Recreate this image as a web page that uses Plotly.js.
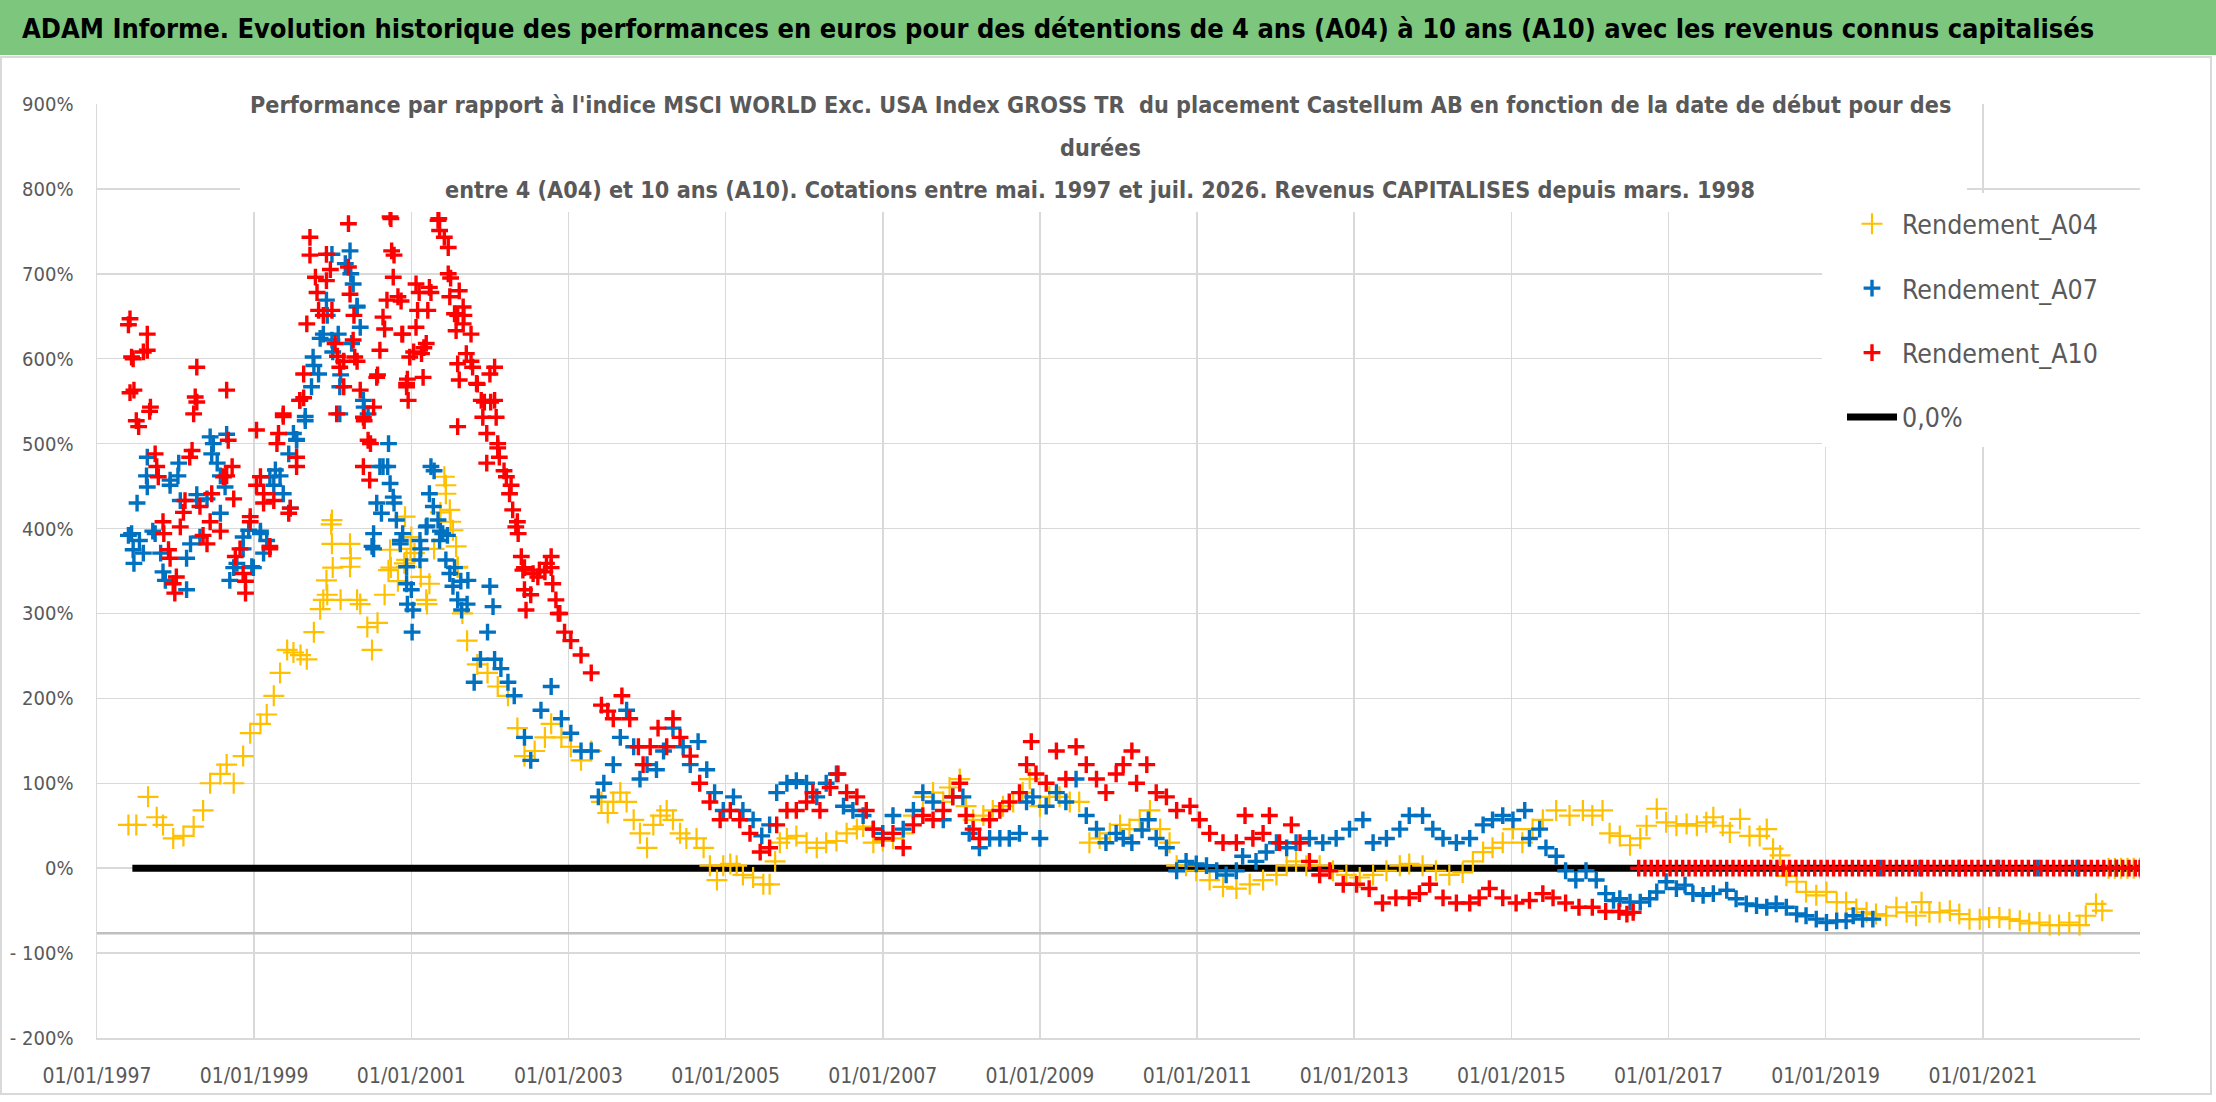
<!DOCTYPE html>
<html>
<head>
<meta charset="utf-8">
<script src="https://cdn.plot.ly/plotly-3.0.1.min.js"></script>
<style>
  html, body { margin: 0; padding: 0; background: #ffffff; }
  #chart { width: 2216px; height: 1102px; }
</style>
</head>
<body>
<div id="chart"></div>
<script>
// Values: [year (decimal), performance in %]
var a04 = [
  [1997.40,51],[1997.50,51],[1997.65,84],[1997.76,60],[1997.84,51],[1997.97,35],[1998.10,38],[1998.23,49],
  [1998.35,68],[1998.44,100],[1998.57,111],[1998.65,122],[1998.74,100],[1998.86,132],[1998.95,159],[1999.08,170],
  [1999.16,181],[1999.25,203],[1999.33,230],[1999.42,257],[1999.50,254],[1999.59,251],[1999.67,246],[1999.76,278],
  [1999.84,305],[1999.93,322],[1999.98,405],[2000.00,354],[2000.10,316],[2000.23,365],[2000.35,311],[2000.44,284],
  [2000.50,257],[2000.57,289],[2000.66,322],[2000.74,354],[2000.83,338],[2000.91,359],[2000.99,376],[2001.12,343],
  [2001.20,311],[2001.29,376],[2001.37,419],[2001.44,451],[2001.50,408],[2001.59,354],[2001.65,300],[2001.71,268],
  [2001.84,240],[2001.97,230],[2002.10,214],[2002.23,203],[2002.35,165],[2002.44,132],[2002.57,138],[2002.70,154],
  [2002.78,170],[2002.91,154],[2003.03,143],[2003.16,127],[2003.29,138],[2003.42,78],[2003.50,65],[2003.57,78],
  [2003.66,89],[2003.74,78],[2003.83,57],[2003.91,41],[2004.00,24],[2004.08,51],[2004.17,62],[2004.25,68],
  [2004.33,57],[2004.42,41],[2004.50,35],[2004.63,35],[2004.72,24],[2004.80,3],[2004.89,-14],[2004.97,3],
  [2005.06,5],[2005.14,3],[2005.22,-8],[2005.35,-11],[2005.48,-19],[2005.56,-19],[2005.63,8],[2005.69,30],
  [2005.78,35],[2005.90,38],[2006.03,30],[2006.16,24],[2006.28,30],[2006.41,32],[2006.54,41],[2006.67,46],
  [2006.75,49],[2006.88,30],[2007.00,32],[2007.13,35],[2007.26,41],[2007.39,62],[2007.51,84],[2007.64,89],
  [2007.77,78],[2007.85,95],[2007.98,105],[2008.06,73],[2008.15,57],[2008.28,62],[2008.40,68],[2008.53,73],
  [2008.66,78],[2008.78,89],[2008.87,105],[2009.00,73],[2009.12,84],[2009.25,84],[2009.38,78],[2009.50,78],
  [2009.63,30],[2009.76,35],[2009.89,41],[2010.02,51],[2010.14,46],[2010.27,57],[2010.40,68],[2010.53,46],
  [2010.65,30],[2010.74,3],[2010.86,3],[2010.99,-3],[2011.16,-14],[2011.33,-22],[2011.50,-24],[2011.67,-19],
  [2011.84,-14],[2012.01,-8],[2012.14,3],[2012.26,8],[2012.39,3],[2012.56,3],[2012.73,-3],[2012.90,-8],
  [2013.07,-11],[2013.24,-8],[2013.41,-3],[2013.58,3],[2013.70,5],[2013.87,3],[2014.04,-3],[2014.21,-8],
  [2014.38,-5],[2014.51,8],[2014.64,19],[2014.76,24],[2014.89,30],[2015.02,46],[2015.14,30],[2015.27,46],
  [2015.40,57],[2015.57,68],[2015.74,62],[2015.91,68],[2016.03,62],[2016.16,68],[2016.25,41],[2016.38,38],
  [2016.51,27],[2016.64,35],[2016.72,50],[2016.85,70],[2016.97,54],[2017.10,50],[2017.23,52],[2017.36,50],
  [2017.48,54],[2017.57,60],[2017.69,50],[2017.78,42],[2017.91,58],[2018.03,38],[2018.16,38],[2018.25,46],
  [2018.33,23],[2018.42,15],[2018.50,-9],[2018.63,-16],[2018.75,-28],[2018.88,-32],[2019.01,-28],[2019.14,-40],
  [2019.26,-40],[2019.39,-48],[2019.52,-52],[2019.64,-54],[2019.77,-56],[2019.90,-46],[2020.03,-52],[2020.15,-56],
  [2020.22,-40],[2020.32,-52],[2020.45,-52],[2020.58,-50],[2020.70,-54],[2020.83,-60],[2020.96,-60],[2021.08,-58],
  [2021.21,-58],[2021.34,-60],[2021.47,-62],[2021.59,-65],[2021.72,-64],[2021.85,-67],[2021.97,-67],[2022.10,-64],
  [2022.23,-67],[2022.31,-56],[2022.44,-42],[2022.52,-50],
  [2022.60,0],[2022.68,0],[2022.76,0],[2022.84,0],[2022.92,0],[2023.00,0],
  // closer readings 1999-2001
  [1999.88,316],[1999.92,339],[1999.99,382],[1999.99,410],[2000.22,382],[2000.22,355],[2000.31,316],[2000.71,351],
  [2000.73,375],[2000.92,414],[2000.94,363],[2000.94,355],[2001.00,390],[2001.04,371],[2001.19,316],[2001.23,335],
  [2001.42,461],[2001.44,441],[2001.49,422],[2001.53,398],[2001.57,379],[2001.59,355]
];

var a07 = [
  [1997.40,392],[1997.46,375],[1997.54,386],[1997.63,462],[1997.71,397],[1997.84,349],[1997.93,451],[1998.03,462],
  [1998.14,365],[1998.27,440],[1998.40,435],[1998.48,500],[1998.57,462],[1998.65,511],[1998.74,354],[1998.86,376],
  [1998.99,354],[1999.08,397],[1999.16,386],[1999.25,451],[1999.33,462],[1999.46,424],[1999.54,505],[1999.65,532],
  [1999.76,592],[1999.84,624],[1999.93,651],[2000.00,608],[2000.10,581],[2000.23,700],[2000.31,662],[2000.40,543],
  [2000.52,376],[2000.60,473],[2000.70,473],[2000.78,430],[2000.86,386],[2000.95,311],[2001.01,278],[2001.12,376],
  [2001.20,403],[2001.29,468],[2001.37,397],[2001.46,392],[2001.55,354],[2001.63,338],[2001.71,311],[2001.80,219],
  [2001.88,246],[2001.97,278],[2002.06,246],[2002.14,235],[2002.23,219],[2002.31,203],[2002.44,154],[2002.52,127],
  [2002.65,186],[2002.78,214],[2002.91,176],[2003.03,159],[2003.16,138],[2003.29,138],[2003.38,84],[2003.45,100],
  [2003.57,122],[2003.66,154],[2003.74,186],[2003.83,143],[2003.91,105],[2004.00,122],[2004.12,116],[2004.21,138],
  [2004.33,165],[2004.46,143],[2004.55,122],[2004.65,149],[2004.76,116],[2004.86,89],[2004.97,68],[2005.10,84],
  [2005.22,68],[2005.35,57],[2005.46,38],[2005.56,51],[2005.65,89],[2005.78,100],[2005.90,103],[2006.03,100],
  [2006.16,84],[2006.28,100],[2006.41,111],[2006.50,73],[2006.62,68],[2006.75,62],[2006.88,46],[2007.00,41],
  [2007.13,62],[2007.26,46],[2007.39,68],[2007.51,89],[2007.64,78],[2007.77,57],[2007.89,84],[2008.02,84],
  [2008.10,41],[2008.23,24],[2008.36,35],[2008.49,35],[2008.61,35],[2008.74,41],[2008.83,78],[2008.91,84],
  [2009.00,35],[2009.08,73],[2009.21,89],[2009.33,78],[2009.46,105],[2009.59,62],[2009.72,46],[2009.84,30],
  [2009.97,41],[2010.06,35],[2010.17,30],[2010.30,45],[2010.38,57],[2010.48,35],[2010.61,24],[2010.74,-3],
  [2010.86,8],[2010.99,5],[2011.12,3],[2011.25,-3],[2011.37,-8],[2011.50,-3],[2011.58,14],[2011.75,8],
  [2011.88,19],[2012.01,30],[2012.14,24],[2012.26,30],[2012.43,35],[2012.60,30],[2012.77,35],[2012.94,46],
  [2013.11,57],[2013.24,30],[2013.41,35],[2013.58,46],[2013.70,62],[2013.87,62],[2014.00,46],[2014.13,35],
  [2014.30,30],[2014.47,35],[2014.64,51],[2014.76,57],[2014.89,62],[2015.02,57],[2015.17,68],[2015.23,35],
  [2015.36,46],[2015.44,24],[2015.57,14],[2015.69,-3],[2015.82,-14],[2015.95,-3],[2016.08,-14],[2016.20,-30],
  [2016.30,-38],[2016.38,-36],[2016.51,-40],[2016.64,-40],[2016.76,-36],[2016.85,-28],[2016.97,-16],[2017.10,-24],
  [2017.21,-20],[2017.31,-30],[2017.44,-32],[2017.57,-30],[2017.74,-26],[2017.86,-36],[2017.99,-42],[2018.12,-44],
  [2018.25,-46],[2018.37,-42],[2018.50,-46],[2018.63,-54],[2018.75,-56],[2018.88,-60],[2019.01,-64],[2019.14,-62],
  [2019.26,-62],[2019.35,-56],[2019.47,-60],[2019.60,-60],
  [2019.70,0],[2020.20,0],[2020.70,0],[2021.20,0],[2021.70,0],[2022.20,0],[2022.70,0],
  // closer readings 1997-2002
  [1997.44,394],[1997.47,359],[1997.51,430],[1997.59,371],[1997.64,484],[1997.64,449],[1997.74,394],[1997.81,371],
  [1997.87,339],[1997.93,457],[1998.04,477],[1998.06,433],[1998.14,328],[1998.19,382],[1998.27,433],[1998.31,390],
  [1998.44,508],[1998.46,488],[1998.53,477],[1998.57,418],[1998.63,449],[1998.69,339],[1998.78,359],[1998.86,390],
  [1998.93,398],[1998.97,355],[1999.08,394],[1999.12,371],[1999.20,461],[1999.27,469],[1999.37,441],[1999.44,488],
  [1999.50,512],[1999.54,504],[1999.58,551],[1999.65,527],[1999.73,567],[1999.75,602],[1999.82,582],[1999.88,629],
  [1999.92,669],[1999.99,723],[1999.99,622],[2000.07,629],[2000.09,567],[2000.09,535],[2000.16,712],[2000.22,727],
  [2000.26,688],[2000.31,661],[2000.35,637],[2000.24,618],[2000.39,551],[2000.45,535],[2000.50,379],[2000.52,394],
  [2000.56,430],[2000.62,418],[2000.64,473],[2000.71,500],[2000.73,453],[2000.77,437],[2000.81,410],[2000.86,382],
  [2000.94,355],[2001.00,328],[2000.89,394],[2000.94,335],[2001.02,304],[2001.11,386],[2001.11,363],[2001.19,402],
  [2001.23,441],[2001.25,473],[2001.28,426],[2001.34,410],[2001.36,386],[2001.40,394],[2001.44,363],[2001.49,347],
  [2001.53,332],[2001.59,316],[2001.64,304],[2001.72,339],[2002.00,332],[2002.04,308]
];

var a10 = [
  [1997.40,640],[1997.42,560],[1997.46,600],[1997.50,527],[1997.59,608],[1997.67,538],[1997.76,473],[1997.84,408],
  [1997.93,365],[1998.01,343],[1998.10,419],[1998.18,484],[1998.27,549],[1998.35,392],[1998.44,408],[1998.57,397],
  [1998.65,462],[1998.74,435],[1998.82,376],[1998.89,338],[1998.95,408],[1999.03,451],[1999.12,430],[1999.20,376],
  [1999.29,500],[1999.37,532],[1999.46,424],[1999.54,484],[1999.63,554],[1999.71,722],[1999.80,678],[1999.88,651],
  [1999.97,705],[2000.06,603],[2000.14,597],[2000.20,759],[2000.27,651],[2000.31,597],[2000.40,527],[2000.48,500],
  [2000.57,581],[2000.66,635],[2000.74,765],[2000.78,722],[2000.87,668],[2000.95,576],[2001.03,608],[2001.10,678],
  [2001.16,613],[2001.25,678],[2001.35,765],[2001.42,743],[2001.50,695],[2001.59,651],[2001.67,651],[2001.76,597],
  [2001.84,570],[2001.93,549],[2002.01,549],[2002.10,495],[2002.18,468],[2002.27,451],[2002.35,408],[2002.44,354],
  [2002.52,322],[2002.61,343],[2002.70,349],[2002.78,354],[2002.87,300],[2002.95,278],[2003.03,268],[2003.16,251],
  [2003.29,230],[2003.42,192],[2003.50,185],[2003.57,176],[2003.68,203],[2003.78,176],[2003.89,143],[2003.95,122],
  [2004.04,143],[2004.14,165],[2004.25,143],[2004.33,176],[2004.42,154],[2004.55,132],[2004.67,100],[2004.80,78],
  [2004.93,57],[2005.06,68],[2005.18,57],[2005.31,41],[2005.44,19],[2005.56,24],[2005.65,51],[2005.78,68],
  [2005.90,68],[2006.03,78],[2006.11,89],[2006.20,68],[2006.33,95],[2006.43,111],[2006.54,89],[2006.67,84],
  [2006.79,68],[2006.88,46],[2007.00,35],[2007.13,41],[2007.26,24],[2007.39,51],[2007.51,62],[2007.64,57],
  [2007.77,68],[2007.89,84],[2007.98,100],[2008.06,62],[2008.15,46],[2008.23,35],[2008.36,57],[2008.49,68],
  [2008.61,78],[2008.74,89],[2008.83,122],[2008.89,149],[2008.95,111],[2009.08,100],[2009.21,138],[2009.33,105],
  [2009.46,143],[2009.59,122],[2009.72,105],[2009.84,89],[2009.97,111],[2010.06,122],[2010.17,138],[2010.23,100],
  [2010.36,122],[2010.48,89],[2010.61,84],[2010.74,68],[2010.91,73],[2011.03,57],[2011.16,41],[2011.33,30],
  [2011.50,30],[2011.61,62],[2011.71,35],[2011.84,41],[2011.92,62],[2012.05,30],[2012.20,51],[2012.31,30],
  [2012.43,8],[2012.56,-8],[2012.69,-3],[2012.86,-19],[2013.03,-19],[2013.19,-24],[2013.36,-41],[2013.53,-35],
  [2013.70,-35],[2013.83,-30],[2013.96,-19],[2014.13,-35],[2014.30,-41],[2014.47,-41],[2014.59,-35],[2014.72,-24],
  [2014.89,-35],[2015.06,-41],[2015.23,-38],[2015.40,-30],[2015.53,-35],[2015.69,-41],[2015.86,-46],[2016.03,-46],
  [2016.20,-51],[2016.37,-51],[2016.47,-54],[2016.55,-52],
  [2016.62,0],[2016.70,0],[2016.78,0],[2016.86,0],[2016.94,0],[2017.02,0],[2017.10,0],[2017.18,0],
  [2017.26,0],[2017.34,0],[2017.42,0],[2017.50,0],[2017.58,0],[2017.66,0],[2017.74,0],[2017.82,0],
  [2017.90,0],[2017.98,0],[2018.06,0],[2018.14,0],[2018.22,0],[2018.30,0],[2018.38,0],[2018.46,0],
  [2018.54,0],[2018.62,0],[2018.70,0],[2018.78,0],[2018.86,0],[2018.94,0],[2019.02,0],[2019.10,0],
  [2019.18,0],[2019.26,0],[2019.34,0],[2019.42,0],[2019.50,0],[2019.58,0],[2019.66,0],[2019.74,0],
  [2019.82,0],[2019.90,0],[2019.98,0],[2020.06,0],[2020.14,0],[2020.22,0],[2020.30,0],[2020.38,0],
  [2020.46,0],[2020.54,0],[2020.62,0],[2020.70,0],[2020.78,0],[2020.86,0],[2020.94,0],[2021.02,0],
  [2021.10,0],[2021.18,0],[2021.26,0],[2021.34,0],[2021.42,0],[2021.50,0],[2021.58,0],[2021.66,0],
  [2021.74,0],[2021.82,0],[2021.90,0],[2021.98,0],[2022.06,0],[2022.14,0],[2022.22,0],[2022.30,0],
  [2022.38,0],[2022.46,0],[2022.54,0],[2022.62,0],[2022.70,0],[2022.78,0],[2022.86,0],[2022.94,0],[2023.00,0],
  // closer readings 1997-2002
  [1997.42,647],[1997.44,602],[1997.47,563],[1997.53,520],[1997.64,629],[1997.64,610],[1997.68,543],[1997.74,488],
  [1997.78,461],[1997.85,394],[1997.91,375],[1997.97,335],[1997.99,324],[1998.06,402],[1998.12,433],[1998.21,492],
  [1998.23,535],[1998.27,590],[1998.25,555],[1998.31,426],[1998.40,382],[1998.46,441],[1998.61,461],[1998.65,563],
  [1998.67,504],[1998.72,473],[1998.76,367],[1998.86,347],[1998.89,324],[1998.95,414],[1999.03,516],[1999.08,461],
  [1999.12,441],[1999.20,379],[1999.25,433],[1999.31,512],[1999.37,535],[1999.44,418],[1999.54,473],[1999.58,551],
  [1999.63,582],[1999.67,641],[1999.71,743],[1999.78,696],[1999.82,657],[1999.92,723],[1999.92,692],[1999.99,657],
  [2000.03,618],[2000.09,590],[2000.14,567],[2000.05,535],[2000.20,708],[2000.22,676],[2000.26,622],[2000.28,602],
  [2000.35,563],[2000.39,531],[2000.45,504],[2000.39,473],[2000.47,457],[2000.52,543],[2000.56,578],[2000.60,610],
  [2000.64,649],[2000.69,669],[2000.73,767],[2000.75,727],[2000.77,696],[2000.83,673],[2000.88,629],[2000.94,571],
  [2000.96,551],[2000.89,629],[2000.94,567],[2000.98,602],[2001.06,688],[2001.08,657],[2001.06,637],[2001.13,606],
  [2001.15,578],[2001.21,657],[2001.23,684],[2001.19,618],[2001.34,763],[2001.36,751],[2001.47,731],[2001.47,700],
  [2001.49,673],[2001.55,653],[2001.57,633],[2001.61,680],[2001.66,661],[2001.66,641],[2001.59,594],[2001.61,575],
  [2001.59,520],[2001.70,606],[2001.76,629],[2001.78,590],[2001.83,571],[2001.89,551],[2001.91,531],[2001.96,512],
  [2002.00,582],[2002.06,590],[2002.06,551],[2002.08,531],[2001.96,477],[2002.10,500],[2002.12,484],[2002.21,461],
  [2002.25,441],[2002.29,422],[2002.33,402],[2002.36,394],[2002.40,367],[2002.42,351],[2002.44,328],[2002.46,304],
  [2002.55,347],[2002.63,351],[2002.72,359],[2002.78,367],[2002.80,335],[2002.84,316],[2002.89,300]
];

var zeroLineX = [1997.45, 2023.0];
var zeroLineY = [0, 0];

var xTickVals = [1997, 1999, 2001, 2003, 2005, 2007, 2009, 2011, 2013, 2015, 2017, 2019, 2021];
var xTickText = ['01/01/1997', '01/01/1999', '01/01/2001', '01/01/2003', '01/01/2005', '01/01/2007', '01/01/2009',
                 '01/01/2011', '01/01/2013', '01/01/2015', '01/01/2017', '01/01/2019', '01/01/2021'];
var yTickVals = [-200, -100, 0, 100, 200, 300, 400, 500, 600, 700, 800, 900];
var yTickText = ['- 200%', '- 100%', '0%', '100%', '200%', '300%', '400%', '500%', '600%', '700%', '800%', '900%'];

var mainTitle = "ADAM Informe. Evolution historique des performances en euros pour des détentions de 4 ans (A04) à 10 ans (A10) avec les revenus connus capitalisés";
var chartTitleLines = [
  "Performance par rapport à l'indice MSCI WORLD Exc. USA Index GROSS TR  du placement Castellum AB en fonction de la date de début pour des",
  "durées",
  "entre 4 (A04) et 10 ans (A10). Cotations entre mai. 1997 et juil. 2026. Revenus CAPITALISES depuis mars. 1998"
];

// page geometry (pixels) -> paper coordinates
var W = 2216, H = 1102;
var M = {l: 97, r: 76, t: 104, b: 64};
var plotW = W - M.l - M.r, plotH = H - M.t - M.b;
function px(p) { return (p - M.l) / plotW; }
function py(p) { return 1 - (p - M.t) / plotH; }

var FONT = '"Liberation Sans Narrow", "DejaVu Sans Condensed", "Arial Narrow", "Liberation Sans", sans-serif';
var GREY = '#595959';

function xs(s) { return s.map(function (d) { return d[0]; }); }
function ys(s) { return s.map(function (d) { return d[1]; }); }

var traces = [
  {x: zeroLineX, y: zeroLineY, mode: 'lines', name: '0,0%', legendgroup: 'z', legendrank: 4,
   line: {color: '#000000', width: 7}},
  {x: xs(a04), y: ys(a04), mode: 'markers', name: 'Rendement_A04', legendgroup: 'a', legendrank: 1,
   marker: {symbol: 'cross-thin', size: 15, color: '#FFC000', line: {color: '#FFC000', width: 2.2}}},
  {x: xs(a07), y: ys(a07), mode: 'markers', name: 'Rendement_A07', legendgroup: 'b', legendrank: 2,
   marker: {symbol: 'cross-thin', size: 12, color: '#0070C0', line: {color: '#0070C0', width: 3.4}}},
  {x: xs(a10), y: ys(a10), mode: 'markers', name: 'Rendement_A10', legendgroup: 'c', legendrank: 3,
   marker: {symbol: 'cross-thin', size: 12, color: '#FF0000', line: {color: '#FF0000', width: 3.4}}}
];

var titleY = [104, 147, 189];
var annotations = [
  {text: '<b>' + mainTitle + '</b>', xref: 'paper', yref: 'paper', x: px(20), xanchor: 'left',
   y: py(28), yanchor: 'middle', showarrow: false,
   font: {family: FONT, size: 27, color: '#000000'}}
];
chartTitleLines.forEach(function (line, i) {
  annotations.push({text: '<b>' + line + '</b>', xref: 'paper', yref: 'paper', x: px(1100), xanchor: 'center',
    y: py(titleY[i]), yanchor: 'middle', showarrow: false,
    font: {family: FONT, size: 23.2, color: GREY}});
});

var layout = {
  width: W,
  height: H,
  margin: M,
  paper_bgcolor: '#ffffff',
  plot_bgcolor: '#ffffff',
  showlegend: true,
  font: {family: FONT, color: GREY},
  xaxis: {
    range: [1997, 2023],
    tickvals: xTickVals,
    ticktext: xTickText,
    showgrid: true, gridcolor: '#D9D9D9', gridwidth: 1.5,
    zeroline: false,
    showline: true, linecolor: '#D9D9D9', linewidth: 1.5,
    ticks: '', ticklabelstandoff: 18,
    tickfont: {family: FONT, size: 21, color: GREY}
  },
  yaxis: {
    range: [-200, 900],
    tickvals: yTickVals,
    ticktext: yTickText,
    showgrid: true, gridcolor: '#D9D9D9', gridwidth: 1.5,
    zeroline: false,
    showline: true, linecolor: '#D9D9D9', linewidth: 1.5,
    ticks: '', ticklabelstandoff: 18,
    tickfont: {family: FONT, size: 20, color: GREY}
  },
  legend: {
    x: px(1842), xanchor: 'left',
    y: py(200), yanchor: 'top',
    bgcolor: '#ffffff',
    font: {family: FONT, size: 26.5, color: GREY},
    traceorder: 'grouped', tracegroupgap: 27,
    itemwidth: 50
  },
  shapes: [
    // green banner
    {type: 'rect', xref: 'paper', yref: 'paper', x0: px(0), x1: px(W), y0: py(55), y1: py(0),
     fillcolor: '#7DC67D', line: {width: 0}, layer: 'below'},
    // chart frame
    {type: 'rect', xref: 'paper', yref: 'paper', x0: px(1), x1: px(2211), y0: py(1094), y1: py(57),
     fillcolor: 'rgba(0,0,0,0)', line: {color: '#D9D9D9', width: 2}, layer: 'below'},
    // horizontal line under the series
    {type: 'line', xref: 'x', yref: 'y', x0: 1997, x1: 2023, y0: -76.5, y1: -76.5,
     line: {color: '#BFBFBF', width: 2.5}, layer: 'between'},
    // white box behind the chart title
    {type: 'rect', xref: 'paper', yref: 'paper', x0: px(240), x1: px(1967), y0: py(212), y1: py(92),
     fillcolor: '#ffffff', line: {width: 0}, layer: 'above'},
    // white panel behind the legend
    {type: 'rect', xref: 'paper', yref: 'paper', x0: px(1822), x1: px(2140), y0: py(447), y1: py(193),
     fillcolor: '#ffffff', line: {width: 0}, layer: 'above'}
  ],
  annotations: annotations
};

Plotly.newPlot('chart', traces, layout, {staticPlot: true, displayModeBar: false});
</script>
</body>
</html>
